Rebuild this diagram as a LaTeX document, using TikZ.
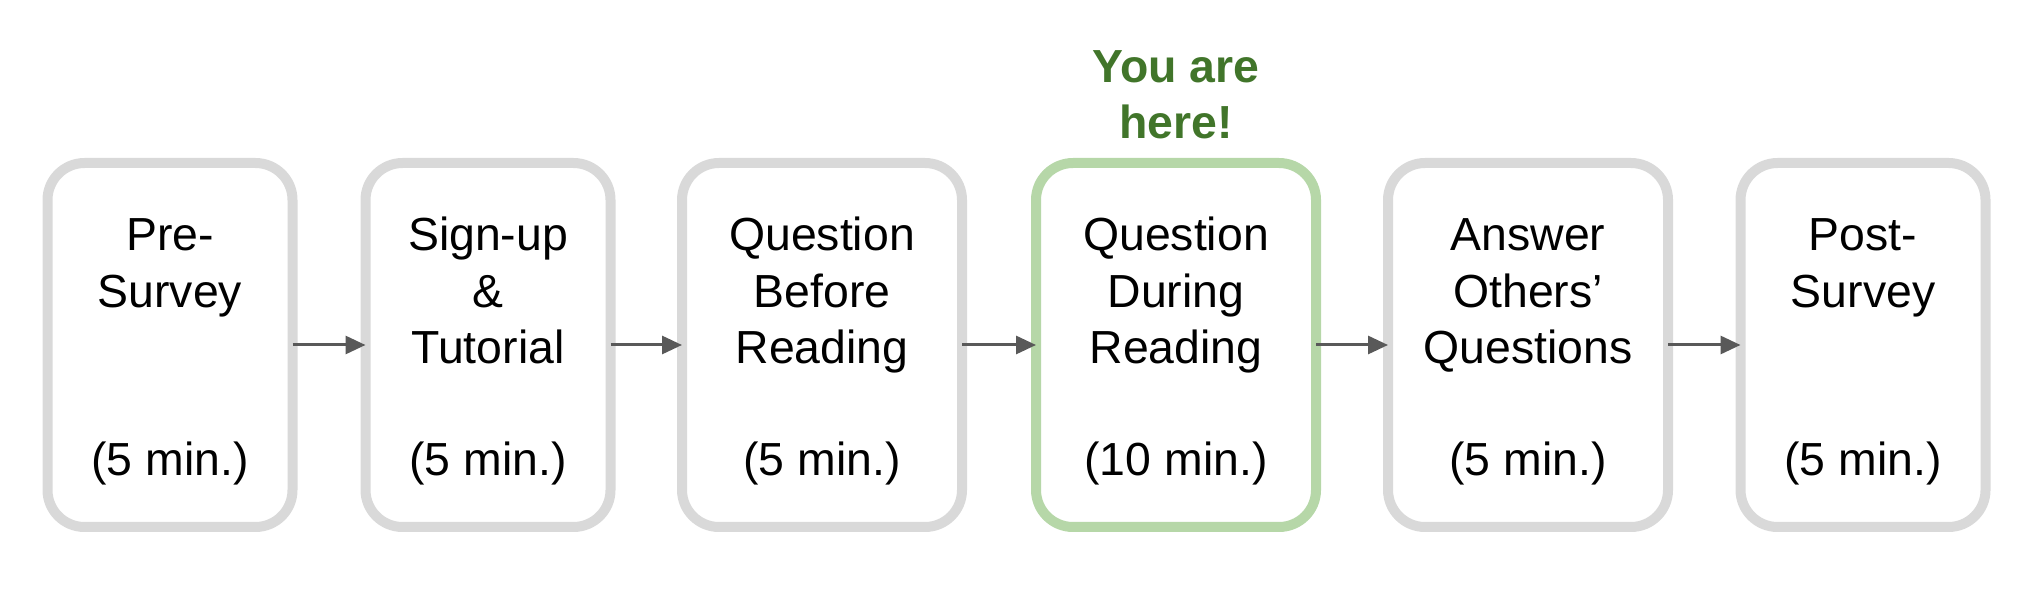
\documentclass[tikz,border=0pt]{standalone}
\usepackage{fontspec}
\setmainfont{Liberation Sans}
\usetikzlibrary{arrows.meta}
\definecolor{stepgrey}{HTML}{D9D9D9}
\definecolor{heregreen}{HTML}{B6D7A8}
\definecolor{heretext}{HTML}{41752A}
\definecolor{arrowgrey}{HTML}{595959}

\begin{document}
\begin{tikzpicture}[x=0.1mm, y=0.1mm,
    stepbox/.style={rectangle, rounded corners=3.7mm, draw=stepgrey, line width=1mm, fill=white,
                 outer sep=0pt, minimum width=24.5mm, minimum height=36.4mm, align=center,
                 font=\fontsize{13.2pt}{16pt}\selectfont, text height=27.2mm, text depth=1mm},
    widebox/.style={stepbox, minimum width=28mm},
    arrow/.style={-{Triangle[length=2mm, width=1.8mm]}, line width=0.3mm, arrowgrey}
]
\useasboundingbox (0,0) rectangle (2040,600);

\node[stepbox] (pre) at (170,255) {Pre-\\Survey\\[11.26mm](5 min.)};
\node[stepbox] (signup) at (488,255) {Sign-up\\\&\\Tutorial\\[5.63mm](5 min.)};
\node[widebox] (before) at (822,255) {Question\\Before\\Reading\\[5.63mm](5 min.)};
\node[widebox, draw=heregreen] (during) at (1176,255) {Question\\During\\Reading\\[5.63mm](10 min.)};
\node[widebox] (answer) at (1528,255) {Answer\\Others’\\Questions\\[5.63mm](5 min.)};
\node[stepbox] (post) at (1863,255) {Post-\\Survey\\[11.26mm](5 min.)};

% you are here
\node[anchor=base, align=center, text=heretext, font=\fontsize{13.2pt}{16pt}\selectfont\bfseries]
    (here) at (1176,461) {You are\\here!};

\draw[arrow] (pre) -- (signup);
\draw[arrow] (signup) -- (before);
\draw[arrow] (before) -- (during);
\draw[arrow] (during) -- (answer);
\draw[arrow] (answer) -- (post);
\end{tikzpicture}
\end{document}
